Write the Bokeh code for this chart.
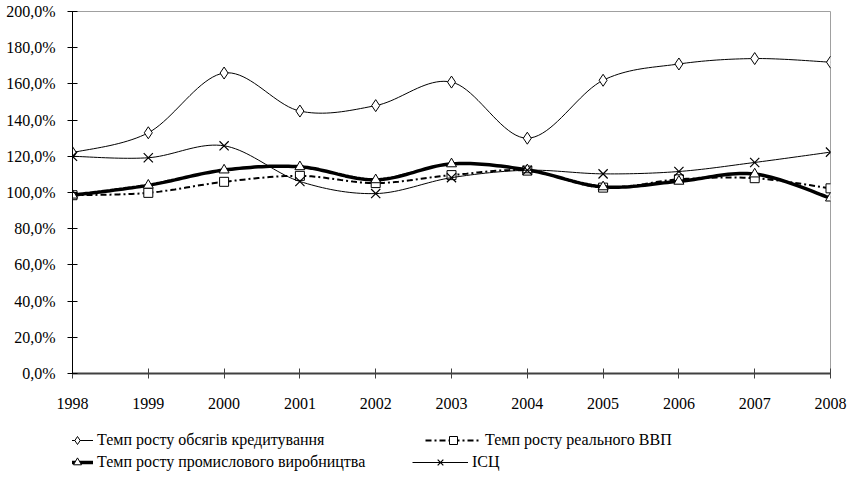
import numpy as np
from bokeh.plotting import figure
from bokeh.layouts import column
from bokeh.models import (Range1d, FixedTicker, CustomJSTickFormatter, Legend, LegendItem)
from bokeh.embed import file_html
from bokeh.resources import INLINE

years = [1998, 1999, 2000, 2001, 2002, 2003, 2004, 2005, 2006, 2007, 2008]
credit = [122.0, 133.0, 166.0, 145.0, 148.0, 161.0, 130.0, 162.0, 171.0, 174.0, 172.0]
gdp = [98.5, 99.8, 105.9, 109.2, 105.2, 109.6, 112.1, 102.7, 107.3, 107.9, 102.3]
industry = [98.5, 104.0, 112.4, 114.2, 107.0, 115.8, 112.5, 103.1, 106.2, 110.2, 96.9]
cpi = [120.0, 119.2, 125.8, 106.1, 99.4, 108.2, 112.3, 110.3, 111.6, 116.6, 122.3]
y_ticks = [0, 20, 40, 60, 80, 100, 120, 140, 160, 180, 200]

labels = ["Темп росту обсягів кредитування", "Темп росту реального ВВП",
          "Темп росту промислового виробництва", "ІСЦ"]

FONT = "Liberation Serif"
FS = "16px"

# series styles (used for plot and legend)
styles = [
    dict(line=dict(line_color="black", line_width=1),
         marker=dict(marker="diamond", size=12, fill_color="white", line_color="black", line_width=1)),
    dict(line=dict(line_color="black", line_width=2, line_dash="6 3 2 3"),
         marker=dict(marker="square", size=9, fill_color="white", line_color="black", line_width=1)),
    dict(line=dict(line_color="black", line_width=3.5),
         marker=dict(marker="triangle", size=10, fill_color="white", line_color="black", line_width=1)),
    dict(line=dict(line_color="black", line_width=1),
         marker=dict(marker="x", size=13, line_color="black", line_width=1.2)),
]


def smooth(xs, ys, n=20):
    """Excel-like smoothed line (Catmull-Rom Bezier) through the data points."""
    P = np.column_stack([np.asarray(xs, float), np.asarray(ys, float)])
    m = len(P)
    out = [P[0]]
    t = np.linspace(0, 1, n + 1)[1:][:, None]
    for i in range(m - 1):
        p0 = P[i - 1] if i > 0 else P[i]
        p1 = P[i]
        p2 = P[i + 1]
        p3 = P[i + 2] if i + 2 < m else P[i + 1]
        c1 = p1 + (p2 - p0) / 6.0
        c2 = p2 - (p3 - p1) / 6.0
        seg = ((1 - t) ** 3) * p1 + 3 * ((1 - t) ** 2) * t * c1 + 3 * (1 - t) * t ** 2 * c2 + t ** 3 * p2
        out.extend(seg)
    out = np.array(out)
    return out[:, 0], out[:, 1]


MAIN_H = 418
FRAME_LEFT = 72
p = figure(width=852, height=MAIN_H, output_backend="svg", toolbar_location=None,
           x_range=Range1d(1998, 2008), y_range=Range1d(0, 200),
           min_border_left=FRAME_LEFT, min_border_right=22, min_border_top=11, min_border_bottom=45)
p.grid.visible = False
p.outline_line_color = "#a0a0a0"
p.outline_line_width = 1
p.background_fill_color = "white"
p.border_fill_color = "white"

# y axis
p.yaxis.ticker = FixedTicker(ticks=y_ticks)
p.yaxis.formatter = CustomJSTickFormatter(code="return tick.toFixed(1).replace('.', ',') + '%';")
p.yaxis.axis_line_color = "black"
p.yaxis.major_tick_line_color = "black"
p.yaxis.major_tick_in = 5
p.yaxis.major_tick_out = 5
p.yaxis.minor_tick_line_color = None
p.yaxis.major_label_standoff = 12
p.yaxis.major_label_text_font = FONT
p.yaxis.major_label_text_font_size = FS
p.yaxis.major_label_text_color = "black"

# x axis
p.xaxis.ticker = FixedTicker(ticks=years)
p.xaxis.axis_line_color = "#404040"
p.xaxis.axis_line_width = 2
p.xaxis.major_tick_line_color = "#404040"
p.xaxis.major_tick_in = 5
p.xaxis.major_tick_out = 5
p.xaxis.minor_tick_line_color = None
p.xaxis.major_label_standoff = 19
p.xaxis.major_label_text_font = FONT
p.xaxis.major_label_text_font_size = FS
p.xaxis.major_label_text_color = "black"

series = [credit, gdp, industry, cpi]
for vals, st in zip(series, styles):
    sx, sy = smooth(years, vals)
    p.line(sx, sy, **st["line"])
    p.scatter(years, vals, **st["marker"])

# legend strip below the chart (its glyphs lie outside its own range, only the legend shows)
LEG_H = 493 - MAIN_H
lf = figure(width=852, height=LEG_H, output_backend="svg", toolbar_location=None,
            x_range=Range1d(0, 1), y_range=Range1d(0, 1),
            x_axis_location=None, y_axis_location=None,
            min_border_left=0, min_border_right=0, min_border_top=0, min_border_bottom=0)
lf.grid.visible = False
lf.outline_line_color = None
lf.background_fill_color = "white"
lf.border_fill_color = "white"

# (x of glyph start, glyph width, y of legend bottom above strip bottom) in screen pixels
leg_pos = [(61, 32, 43), (425, 56, 43), (61, 32, 21), (412, 56, 21)]
for lab, vals, st, (lx, gw, ly) in zip(labels, series, styles, leg_pos):
    lr = lf.line(years, vals, **st["line"])
    mk = dict(st["marker"])
    mk["size"] = 8
    mr = lf.scatter(years, vals, **mk)
    lg = Legend(items=[LegendItem(label=lab, renderers=[lr, mr])], location=(lx - FRAME_LEFT, ly),
                orientation="horizontal", padding=0, margin=0, spacing=0,
                border_line_alpha=0, background_fill_alpha=0,
                glyph_width=gw, glyph_height=20, label_height=20, label_standoff=4,
                label_text_font=FONT, label_text_font_size=FS, label_text_color="black",
                click_policy="none")
    lf.add_layout(lg, "center")

layout = column(p, lf, spacing=0)
open("out.html", "w").write(file_html(layout, INLINE))
